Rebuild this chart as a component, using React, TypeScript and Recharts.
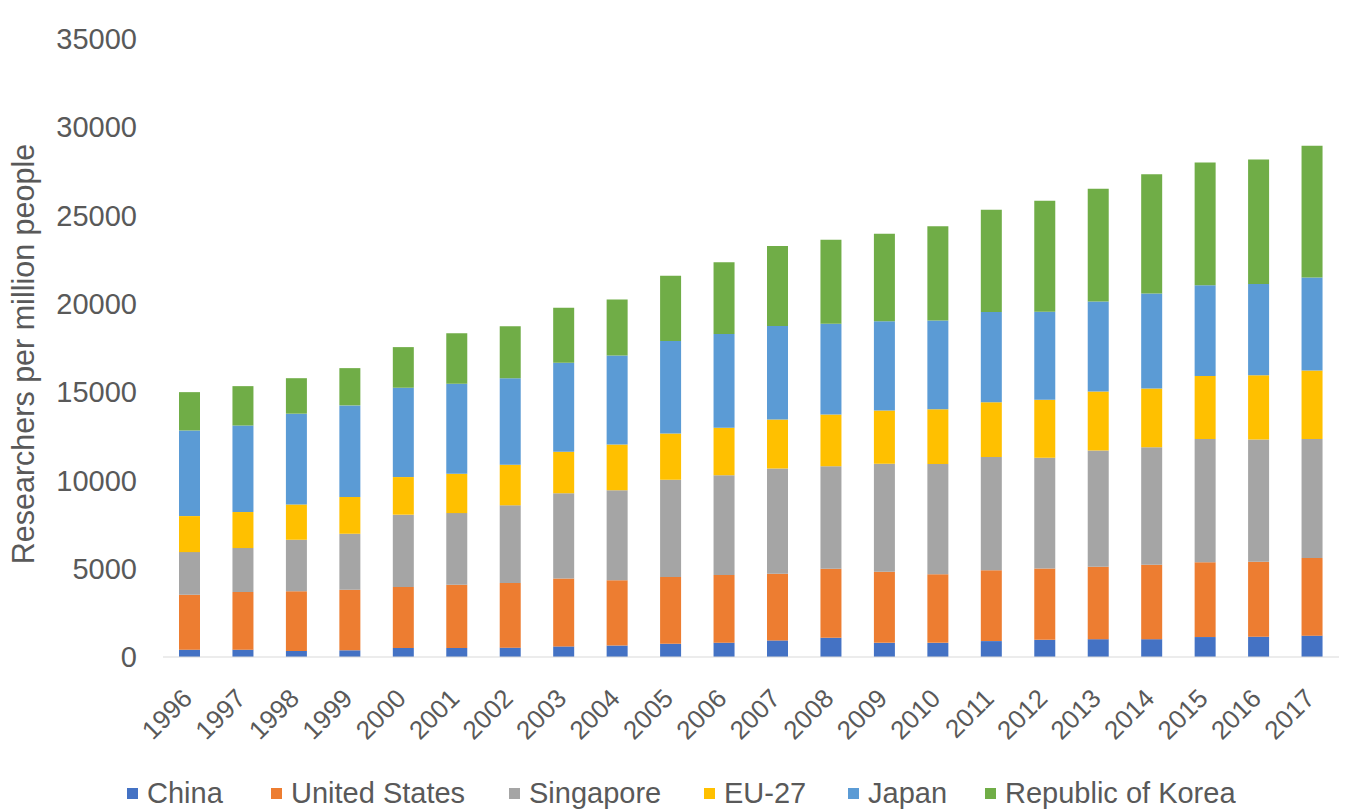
import React from 'react';
import { BarChart, Bar, XAxis, YAxis, Legend } from 'recharts';

const years = ['1996','1997','1998','1999','2000','2001','2002','2003','2004','2005','2006','2007','2008','2009','2010','2011','2012','2013','2014','2015','2016','2017'];
const china = [415,415,340,380,510,510,530,600,650,750,810,940,1090,800,800,900,975,1010,1010,1130,1150,1210];
const unitedStates = [3115,3265,3380,3430,3450,3580,3660,3850,3690,3780,3830,3780,3910,4030,3880,4010,4035,4100,4220,4230,4250,4390];
const singapore = [2410,2490,2920,3170,4100,4060,4400,4820,5110,5510,5660,5960,5810,6110,6250,6420,6280,6590,6650,6980,6920,6740];
const eu27 = [2040,2040,2000,2080,2130,2230,2300,2350,2590,2620,2680,2770,2930,3020,3100,3100,3280,3330,3330,3570,3630,3880];
const japan = [4850,4900,5140,5190,5060,5090,4900,5040,5040,5230,5310,5290,5130,5060,5030,5110,4990,5110,5380,5150,5170,5270];
const korea = [2170,2230,2010,2110,2300,2870,2940,3120,3170,3700,4070,4530,4760,4950,5340,5790,6280,6380,6750,6940,7060,7470];
const yTicks = [0,5000,10000,15000,20000,25000,30000,35000];

const series = [
  { key: 'China', color: '#4472C4' },
  { key: 'United States', color: '#ED7D31' },
  { key: 'Singapore', color: '#A5A5A5' },
  { key: 'EU-27', color: '#FFC000' },
  { key: 'Japan', color: '#5B9BD5' },
  { key: 'Republic of Korea', color: '#70AD47' },
];

// legend item left positions (layout)
const legendLeft = [127, 271, 509, 704, 848, 985];

const data = years.map((y, i) => ({
  year: y,
  'China': china[i],
  'United States': unitedStates[i],
  'Singapore': singapore[i],
  'EU-27': eu27[i],
  'Japan': japan[i],
  'Republic of Korea': korea[i],
}));

const FONT = '"Liberation Sans", Arial, sans-serif';
const TEXT = '#595959';

const XTick = (props: any) => {
  const { x, y, payload } = props;
  const ax = x + 4;
  const ay = y + 35;
  return (
    <text x={ax} y={ay} transform={`rotate(-45, ${ax}, ${ay})`} textAnchor="end" fill={TEXT} fontSize={26} fontFamily={FONT}>
      {payload.value}
    </text>
  );
};

const YTick = (props: any) => {
  const { x, y, payload } = props;
  return (
    <text x={x - 18} y={y} dy="0.35em" textAnchor="end" fill={TEXT} fontSize={29} fontFamily={FONT}>
      {payload.value}
    </text>
  );
};

const LegendContent = () => (
  <div style={{ position: 'relative', height: 43, fontFamily: FONT, fontSize: 29, color: TEXT }}>
    {series.map((s, i) => (
      <div key={s.key} style={{ position: 'absolute', left: legendLeft[i], top: 9, display: 'flex', alignItems: 'center', whiteSpace: 'nowrap', lineHeight: '34px' }}>
        <span style={{ display: 'inline-block', width: 11, height: 11, background: s.color, marginRight: 9 }} />
        <span>{s.key}</span>
      </div>
    ))}
  </div>
);

export default function App() {
  return (
    <div style={{ width: 1354, height: 810, background: '#fff' }}>
      <style>{`body{margin:0;background:#fff;}`}</style>
      <BarChart width={1354} height={810} data={data} margin={{ top: 39, right: 15, bottom: 0, left: 0 }} barSize={21}>
        <XAxis dataKey="year" height={110} tickLine={false} axisLine={{ stroke: '#D9D9D9' }} tick={<XTick />} interval={0} />
        <YAxis
          width={163}
          domain={[0, 35000]}
          ticks={yTicks}
          tickLine={false}
          axisLine={false}
          tick={<YTick />}
          interval={0}
          label={(p: any) => {
            const vb = p.viewBox || { x: 0, y: 39, width: 163, height: 618 };
            const cx = vb.x + 34;
            const cy = vb.y + vb.height / 2 + 6;
            return (
              <text x={cx} y={cy} transform={`rotate(-90, ${cx}, ${cy})`} textAnchor="middle" fill={TEXT} fontSize={30.5} fontFamily={FONT}>
                Researchers per million people
              </text>
            );
          }}
        />
        <Legend verticalAlign="bottom" height={43} content={<LegendContent />} wrapperStyle={{ left: 0, width: 1354 }} />
        {series.map((s) => (
          <Bar key={s.key} dataKey={s.key} stackId="a" fill={s.color} isAnimationActive={false} />
        ))}
      </BarChart>
    </div>
  );
}
